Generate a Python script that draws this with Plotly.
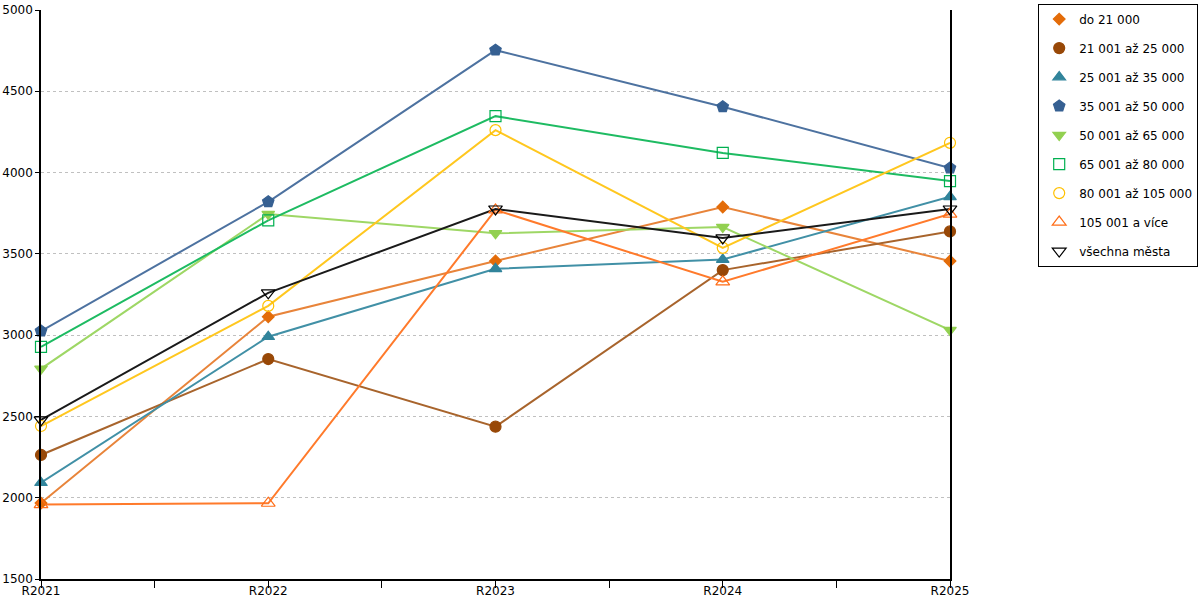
import plotly.graph_objects as go

# data
years = ["R2021", "R2022", "R2023", "R2024", "R2025"]

do_21000 = [1967, 3113, 3456, 3788, 3456]
od_21001 = [2263, 2853, 2437, 3400, 3638]
od_25001 = [2092, 2990, 3408, 3465, 3851]
od_35001 = [3025, 3820, 4753, 4405, 4028]
od_50001 = [2793, 3745, 3626, 3665, 3031]
od_65001 = [2928, 3706, 4347, 4121, 3948]
od_80001 = [2441, 3180, 4261, 3537, 4183]
od_105001 = [1958, 1966, 3770, 3328, 3745]
vsechna = [2479, 3260, 3776, 3598, 3776]

series = [
    ("do 21 000", do_21000, "#e36c09", "#e8843a", "diamond", 9),
    ("21 001 až 25 000", od_21001, "#984807", "#a8642c", "circle", 11),
    ("25 001 až 35 000", od_25001, "#31849b", "#4190a6", "triangle-up", 11),
    ("35 001 až 50 000", od_35001, "#366092", "#4d72a0", "pentagon", 12),
    ("50 001 až 65 000", od_50001, "#92d050", "#9ed765", "triangle-down", 11),
    ("65 001 až 80 000", od_65001, "#00b050", "#1ebb62", "square-open", 11),
    ("80 001 až 105 000", od_80001, "#ffc000", "#ffc71f", "circle-open", 11),
    ("105 001 a více", od_105001, "#ff6d17", "#ff7a2b", "triangle-up-open", 12),
    ("všechna města", vsechna, "#000000", "#1a1a1a", "triangle-down-open", 12),
]

x = list(range(len(years)))

fig = go.Figure()
# lines first, markers on top (legend shows markers only, like the original)
for name, vals, mcol, lcol, sym, size in series:
    fig.add_trace(go.Scatter(
        x=x, y=vals, name=name, mode="lines", legendgroup=name,
        showlegend=False, line=dict(color=lcol, width=2),
    ))
for name, vals, mcol, lcol, sym, size in series:
    fig.add_trace(go.Scatter(
        x=x, y=vals, name=name, mode="markers", legendgroup=name,
        cliponaxis=False,
        marker=dict(symbol=sym, size=size, color=mcol,
                    line=dict(color=mcol, width=1.2)),
    ))

fig.update_layout(
    width=1200, height=600,
    margin=dict(l=41, r=250, t=10, b=21),
    plot_bgcolor="white", paper_bgcolor="white",
    font=dict(family="DejaVu Sans", size=12, color="#000000"),
    showlegend=True,
    legend=dict(
        xref="container", yref="container",
        x=0.9985, y=0.994, xanchor="right", yanchor="top",
        bordercolor="#000000", borderwidth=1,
        font=dict(size=12), tracegroupgap=10, itemwidth=30,
    ),
)
# ticks drawn as minor ticks every half step, so labels sit close to the axis
fig.update_xaxes(
    range=[0, 4], tickvals=x, ticktext=years, automargin=False,
    showgrid=False, zeroline=False,
    showline=True, linecolor="#000000", linewidth=1.5,
    ticks="",
    minor=dict(dtick=0.5, tick0=0, ticks="outside", ticklen=7, tickcolor="#000000"),
)
fig.update_yaxes(
    range=[1500, 5000], dtick=500, automargin=False,
    showgrid=True, gridcolor="#c0c0c0", griddash="dot", gridwidth=1,
    zeroline=False,
    showline=True, linecolor="#000000", linewidth=1.5, mirror=True,
    ticks="outside", ticklen=4, tickcolor="#000000",
)

fig.write_html("out.html", config={"displayModeBar": False},
               post_script="document.body.style.margin='0';")
